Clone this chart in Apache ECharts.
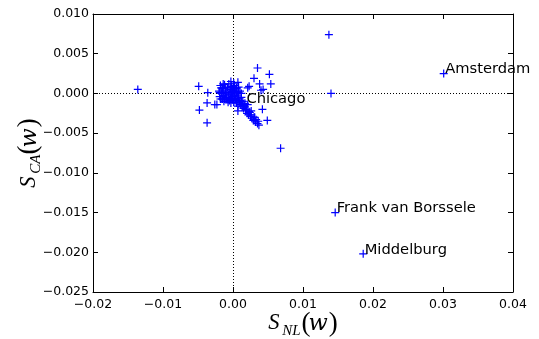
<!DOCTYPE html>
<html>
<head>
<meta charset="utf-8">
<script src="https://cdn.jsdelivr.net/npm/echarts@6/dist/echarts.min.js"></script>
<style>
html,body{margin:0;padding:0;background:#fff;}
#chart{width:539px;height:339px;}
</style>
</head>
<body>
<div id="chart"></div>
<script>
// ---- data ----
const pointX = [
  0.0137, 0.0140, 0.0068, -0.0136, 0.0035, 0.0052, 0.0054, -0.0049, -0.0036, -0.0037,
  -0.0048, -0.0037, -0.0023, 0.0042, 0.0049, 0.0037, 0.0030, 0.0030, 0.0038, 0.0023,
  0.0040, 0.0007, -0.0014, 0.0007, 0.0019, 0.0024, -0.0026, 0.0021, 0.0026, 0.0031,
  0.0036, 0.0007, 0.0043, 0.0021,
  -0.0018, -0.0015, -0.0012, -0.0010, -0.0008, -0.0006, -0.0004, -0.0002, 0.0000, 0.0002,
  0.0004, 0.0006, 0.0008, 0.0010, -0.0017, -0.0014, -0.0011, -0.0009, -0.0006, -0.0004,
  -0.0002, 0.0000, 0.0002, 0.0004, 0.0006, 0.0008, 0.0010, 0.0012, -0.0016, -0.0013,
  -0.0010, -0.0007, -0.0005, -0.0003, -0.0001, 0.0001, 0.0003, 0.0005, 0.0009, 0.0011,
  0.0013, 0.0015, 0.0016, 0.0018, 0.0020, 0.0022, 0.0025, 0.0027, 0.0029, 0.0032,
  -0.0020, -0.0019, 0.0001, -0.0003, 0.0003, -0.0001, 0.0012, 0.0014,
  -0.0019, -0.0016, -0.0013, -0.0010, -0.0007, -0.0004, -0.0001, 0.0002, 0.0005, 0.0008,
  -0.0018, -0.0015, -0.0012, -0.0009, -0.0006, -0.0003, 0.0000, 0.0003, 0.0006,
  -0.0017, -0.0014, -0.0011, -0.0003, 0.0001, 0.0005,
  0.0012, 0.0014, 0.0017, 0.0019, 0.0023, 0.0026, 0.0030, 0.0033, 0.0035
];
const pointY = [
  0.0074, 0.0000, -0.0069, 0.0005, 0.0032, 0.0024, 0.0012, 0.0009, 0.0001, -0.0012,
  -0.0021, -0.0037, -0.0014, -0.0020, -0.0034, -0.0040, -0.0033, 0.0019, 0.0012, 0.0009,
  0.0004, 0.0014, 0.0012, -0.0016, -0.0020, -0.0024, -0.0014, -0.0014, -0.0022, -0.0030,
  -0.0035, -0.0022, 0.0005, 0.0007,
  0.0010, 0.0006, 0.0011, 0.0003, 0.0008, 0.0012, 0.0005, 0.0009, 0.0004, 0.0010,
  0.0006, 0.0002, 0.0008, 0.0003, 0.0000, -0.0003, -0.0001, -0.0005, -0.0002, -0.0006,
  -0.0001, -0.0004, -0.0002, -0.0007, -0.0003, -0.0006, -0.0009, -0.0005, -0.0007, -0.0010,
  -0.0008, -0.0011, -0.0009, -0.0012, -0.0008, -0.0011, -0.0009, -0.0012, -0.0012, -0.0014,
  -0.0017, -0.0019, -0.0015, -0.0022, -0.0025, -0.0027, -0.0029, -0.0031, -0.0034, -0.0036,
  0.0003, -0.0004, 0.0013, 0.0015, 0.0001, 0.0002, 0.0000, -0.0010,
  0.0001, 0.0001, 0.0001, 0.0001, 0.0001, 0.0001, 0.0001, 0.0001, 0.0001, 0.0001,
  -0.0007, -0.0007, -0.0007, -0.0007, -0.0007, -0.0007, -0.0007, -0.0007, -0.0007,
  0.0007, 0.0007, 0.0007, 0.0007, 0.0007, 0.0007,
  -0.0010, -0.0013, -0.0017, -0.0020, -0.0023, -0.0027, -0.0030, -0.0033, -0.0038
];
const labelNames = ['Amsterdam', 'Chicago', 'Frank van Borssele', 'Middelburg'];
const labelX = [0.0301, 0.0017, 0.0146, 0.0186];
const labelY = [0.0025, -0.00125, -0.0150, -0.0202];
const xTicks = [-0.02, -0.01, 0.00, 0.01, 0.02, 0.03, 0.04];
const yTicks = [-0.025, -0.020, -0.015, -0.010, -0.005, 0.000, 0.005, 0.010];
const xTitle = ['S', 'NL'];
const yTitle = ['S', 'CA'];

// ---- build ----
const plusPath = 'path://M0,3.4H8V4.6H0Z M3.4,0H4.6V8H3.4Z';
const blue = '#0000ff';
function fmt(v, d) {
  const s = Math.abs(v).toFixed(d);
  return (v < -1e-12 ? '\u2212' : '') + s;
}
const data = [];
for (let i = 0; i < pointX.length; i++) data.push([pointX[i], pointY[i]]);
for (let i = 0; i < labelNames.length; i++) {
  data.push({
    value: [labelX[i], labelY[i]],
    name: labelNames[i],
    label: {
      show: true, formatter: '{b}', position: [5.5, 0], align: 'left', verticalAlign: 'middle',
      color: '#000', fontFamily: 'DejaVu Sans', fontSize: 14.7
    }
  });
}
const tickFont = {color: '#000', fontFamily: 'DejaVu Sans', fontSize: 12.5};
const axisLine = {show: true, onZero: false, lineStyle: {color: '#000', width: 1}};
const tick = {show: true, inside: true, length: 5, lineStyle: {color: '#000', width: 1}};

function mathTitle(x0, y0, rot, parts) {
  const serif = 'Liberation Serif';
  const ch = [
    {type: 'text', x: 0, y: 0, style: {text: parts[0], font: 'italic 22.5px ' + serif, fill: '#000', align: 'left', verticalAlign: 'middle'}},
    {type: 'text', x: 14, y: 7.5, style: {text: parts[1], font: 'italic 15px ' + serif, fill: '#000', align: 'left', verticalAlign: 'middle'}},
    {type: 'text', x: 33.2, y: 0.3, style: {text: '(', font: '27px ' + serif, fill: '#000', align: 'left', verticalAlign: 'middle'}},
    {type: 'text', x: 40.3, y: 0.8, style: {text: 'w', font: 'italic 22.5px "DejaVu Serif"', fill: '#000', align: 'left', verticalAlign: 'middle'}},
    {type: 'text', x: 60.5, y: 0.3, style: {text: ')', font: '27px ' + serif, fill: '#000', align: 'left', verticalAlign: 'middle'}}
  ];
  return {type: 'group', x: x0, y: y0, rotation: rot, children: ch};
}

const chart = echarts.init(document.getElementById('chart'), null, {renderer: 'canvas'});
chart.setOption({
  animation: false,
  backgroundColor: '#fff',
  grid: {left: 93, right: 26, top: 14, bottom: 47, containLabel: false},
  xAxis: [
    {type: 'value', position: 'bottom', min: xTicks[0], max: xTicks[xTicks.length - 1], interval: 0.01,
     axisLine: axisLine, axisTick: tick, splitLine: {show: false},
     axisLabel: Object.assign({margin: 6, formatter: v => fmt(v, 2)}, tickFont)},
    {type: 'value', position: 'top', min: xTicks[0], max: xTicks[xTicks.length - 1], interval: 0.01,
     axisLine: axisLine, axisTick: tick, splitLine: {show: false}, axisLabel: {show: false}}
  ],
  yAxis: [
    {type: 'value', position: 'left', min: yTicks[0], max: yTicks[yTicks.length - 1], interval: 0.005,
     axisLine: axisLine, axisTick: tick, splitLine: {show: false},
     axisLabel: Object.assign({margin: 4, formatter: v => fmt(v, 3)}, tickFont)},
    {type: 'value', position: 'right', min: yTicks[0], max: yTicks[yTicks.length - 1], interval: 0.005,
     axisLine: axisLine, axisTick: tick, splitLine: {show: false}, axisLabel: {show: false}}
  ],
  series: [{
    type: 'scatter',
    xAxisIndex: 0, yAxisIndex: 0,
    symbol: plusPath,
    symbolSize: 8,
    itemStyle: {color: blue, opacity: 1},
    data: data,
    z: 3,
    markLine: {
      silent: true, symbol: 'none', z: 1,
      label: {show: false},
      lineStyle: {color: '#000', type: [1, 2], width: 1},
      data: [{xAxis: 0}, {yAxis: 0}]
    }
  }],
  graphic: [
    mathTitle(268.3, 323.4, 0, xTitle),
    mathTitle(29, 187.7, Math.PI / 2, yTitle)
  ]
});
</script>
</body>
</html>
